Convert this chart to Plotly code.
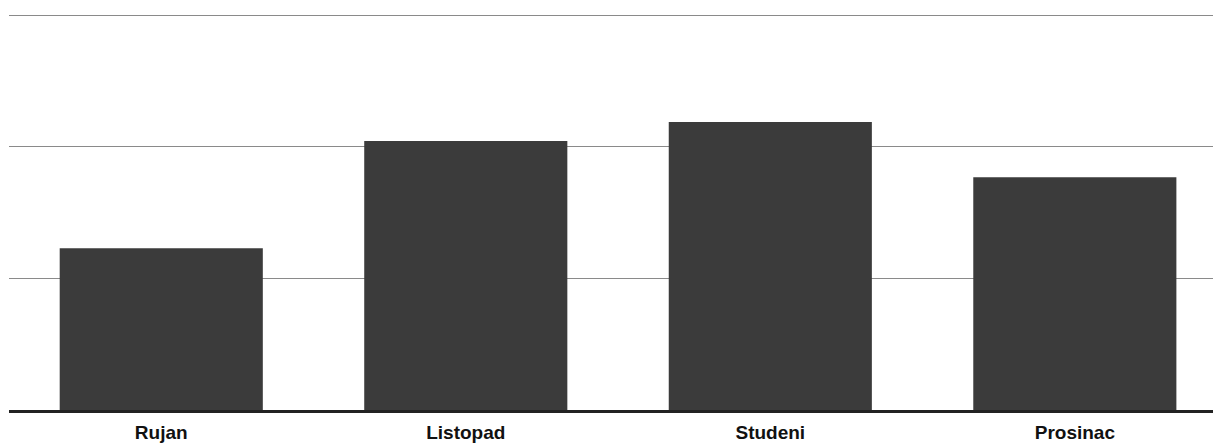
import plotly.graph_objects as go

categories = ["Rujan", "Listopad", "Studeni", "Prosinac"]
values = [12.3, 20.45, 21.9, 17.7]

fig = go.Figure(go.Bar(
    x=categories, y=values,
    marker=dict(color="#3b3b3b", line=dict(width=0)),
    width=0.667,
))

fig.update_layout(
    width=1213, height=437,
    margin=dict(l=1, r=0, t=6, b=35),
    paper_bgcolor="white", plot_bgcolor="white",
    showlegend=False,
    font=dict(family="Liberation Sans, Arial, sans-serif", color="#111"),
)
fig.update_xaxes(
    range=[-0.5, 3.48],
    showline=True, linecolor="#222", linewidth=3,
    showgrid=False,
    ticks="outside", ticklen=3, tickcolor="rgba(0,0,0,0)",
    tickfont=dict(size=19, family="Liberation Sans, Arial, sans-serif", weight="bold", color="#111"),
)
fig.update_yaxes(
    range=[0, 30.1], dtick=10,
    showgrid=True, gridcolor="#8a8a8a", gridwidth=1.3,
    showticklabels=False, zeroline=False,
)
fig.write_html("out.html")
